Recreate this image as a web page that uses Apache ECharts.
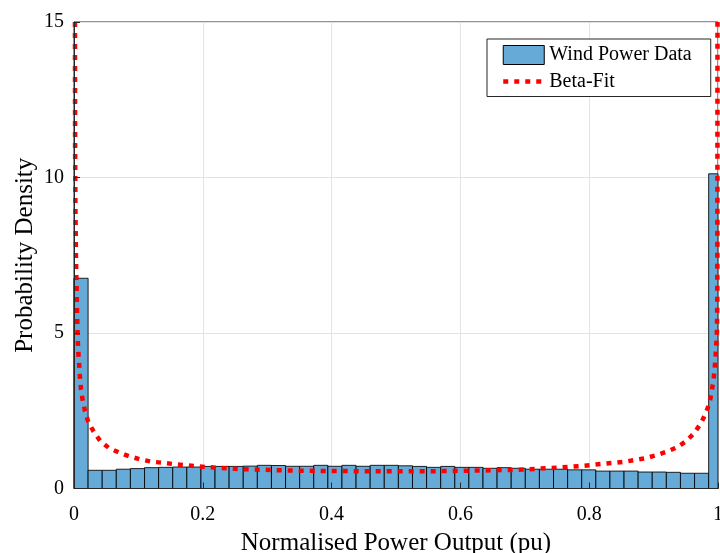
<!DOCTYPE html>
<html>
<head>
<meta charset="utf-8">
<script src="https://cdn.jsdelivr.net/npm/echarts@6/dist/echarts.min.js"></script>
<style>
html,body{margin:0;padding:0;background:#fff;}
#chart{width:720px;height:553px;}
</style>
</head>
<body>
<div id="chart"></div>
<script>
// ---- data ----
const binWidth = 0.0219;
const histHeights = [
  6.76, 0.585, 0.585, 0.62, 0.64, 0.67, 0.68, 0.69, 0.69, 0.71,
  0.71, 0.71, 0.72, 0.745, 0.74, 0.714, 0.714, 0.745, 0.714, 0.745,
  0.714, 0.745, 0.745, 0.73, 0.71, 0.68, 0.71, 0.68, 0.68, 0.65,
  0.67, 0.65, 0.62, 0.62, 0.62, 0.60, 0.60, 0.56, 0.56, 0.56,
  0.53, 0.53, 0.52, 0.49, 0.49, 10.12
];
const fitX = [
  0.0015, 0.0017, 0.0022, 0.0031, 0.0041, 0.0047, 0.0052, 0.0057, 0.0062, 0.0072,
  0.0083, 0.0093, 0.0109, 0.0135, 0.0171, 0.0222, 0.0305, 0.0404, 0.0538, 0.0694,
  0.085, 0.1025, 0.1206, 0.136, 0.153, 0.170, 0.187, 0.204, 0.221, 0.238,
  0.256, 0.273, 0.290, 0.307, 0.324, 0.341, 0.358, 0.375, 0.400, 0.444,
  0.478, 0.512, 0.547, 0.581, 0.615, 0.650, 0.684, 0.718, 0.752, 0.786,
  0.820, 0.855, 0.888, 0.904, 0.920, 0.937, 0.951, 0.963, 0.973, 0.981,
  0.987, 0.990, 0.993, 0.9946, 0.996, 0.997, 0.998, 0.9984, 0.9988, 0.9990,
  0.9991, 0.9992
];
const fitY = [
  15, 11, 9.0, 7.4, 6.4, 5.68, 5.31, 4.94, 4.59, 4.24,
  3.90, 3.55, 3.19, 2.83, 2.48, 2.14, 1.83, 1.54, 1.31, 1.16,
  1.04, 0.94, 0.862, 0.83, 0.79, 0.756, 0.724, 0.69, 0.67, 0.65,
  0.627, 0.617, 0.605, 0.595, 0.585, 0.577, 0.572, 0.567, 0.563, 0.556,
  0.553, 0.553, 0.555, 0.563, 0.575, 0.585, 0.60, 0.632, 0.67, 0.72,
  0.79, 0.86, 0.975, 1.07, 1.18, 1.33, 1.53, 1.78, 2.08, 2.42,
  2.76, 3.11, 3.47, 3.81, 4.16, 4.51, 4.86, 5.21, 6.0, 8.0,
  11.0, 15
];
const xTicks = ['0', '0.2', '0.4', '0.6', '0.8', '1'];
const yTicks = ['0', '5', '10', '15'];

// ---- build ----
const histData = histHeights.map((h, i) => [i * binWidth, (i + 1) * binWidth, h]);
const fitData = fitX.map((x, i) => [x, fitY[i]]);

const FONT = '"Liberation Serif", "Times New Roman", serif';
const AX = '#262626';

const chart = echarts.init(document.getElementById('chart'), null, {renderer: 'canvas'});
chart.setOption({
  backgroundColor: '#ffffff',
  animation: false,
  grid: {left: 74, right: 2, top: 22, bottom: 64.5, containLabel: false, outerBoundsMode: 'none',
    show: true, borderColor: AX, borderWidth: 1, backgroundColor: 'transparent'},
  legend: {
    orient: 'vertical',
    left: 487, top: 39,
    padding: [6, 19, 5, 14],
    itemWidth: 41, itemHeight: 19, itemGap: 6.5,
    backgroundColor: '#ffffff',
    borderColor: '#262626', borderWidth: 1,
    textStyle: {fontFamily: FONT, fontSize: 20, color: '#000'},
    data: [
      {name: 'Wind Power Data', icon: 'rect', itemStyle: {color: '#66AAD7', borderColor: '#000', borderWidth: 1}},
      {name: 'Beta-Fit', itemStyle: {opacity: 0}, lineStyle: {color: '#ff0000', width: 4.5, type: [5, 6], cap: 'butt'}}
    ]
  },
  xAxis: [
    {
      type: 'value', min: 0, max: 1, interval: 0.2, z: 10,
      axisLine: {show: true, lineStyle: {color: AX, width: 1}},
      axisTick: {show: true, inside: true, length: 6, lineStyle: {color: AX}},
      axisLabel: {fontFamily: FONT, fontSize: 20, color: '#000', margin: 16,
        formatter: v => xTicks[Math.round(v / 0.2)]},
      splitLine: {show: false},
      name: 'Normalised Power Output (pu)', nameLocation: 'middle', nameGap: 42,
      nameTextStyle: {fontFamily: FONT, fontSize: 25, color: '#000'}
    },
    {
      type: 'value', min: 0, max: 1, interval: 0.2, z: 0,
      axisLine: {show: false}, axisTick: {show: false}, axisLabel: {show: false},
      splitLine: {show: true, lineStyle: {color: '#e3e3e3', width: 1}}
    }
  ],
  yAxis: [
    {
      type: 'value', min: 0, max: 15, interval: 5, z: 10,
      axisLine: {show: true, lineStyle: {color: AX, width: 1}},
      axisTick: {show: true, inside: true, length: 6, lineStyle: {color: AX}},
      axisLabel: {fontFamily: FONT, fontSize: 20, color: '#000', margin: 10,
        formatter: v => yTicks[Math.round(v / 5)]},
      splitLine: {show: false},
      name: 'Probability Density', nameLocation: 'middle', nameGap: 36, nameMoveOverlap: false,
      nameTextStyle: {fontFamily: FONT, fontSize: 25, color: '#000'}
    },
    {
      type: 'value', min: 0, max: 15, interval: 5, z: 0,
      axisLine: {show: false}, axisTick: {show: false}, axisLabel: {show: false},
      splitLine: {show: true, lineStyle: {color: '#e3e3e3', width: 1}}
    }
  ],
  series: [
    {
      name: 'Wind Power Data',
      type: 'custom',
      xAxisIndex: 0, yAxisIndex: 0,
      encode: {x: [0, 1], y: 2},
      data: histData,
      z: 2,
      itemStyle: {color: '#66AAD7'},
      renderItem: function (params, api) {
        const p0 = api.coord([api.value(0), 0]);
        const p1 = api.coord([api.value(1), api.value(2)]);
        const cs = params.coordSys;
        const rect = echarts.graphic.clipRectByRect(
          {x: p0[0], y: p1[1], width: p1[0] - p0[0], height: p0[1] - p1[1]},
          {x: cs.x, y: cs.y, width: cs.width, height: cs.height});
        if (!rect) return null;
        return {
          type: 'rect', shape: rect,
          style: {fill: '#66AAD7', stroke: 'rgba(0,0,0,0.85)', lineWidth: 1}
        };
      }
    },
    {
      name: 'Beta-Fit',
      type: 'line',
      xAxisIndex: 0, yAxisIndex: 0,
      data: fitData,
      symbol: 'none',
      smooth: false,
      clip: false,
      z: 5,
      itemStyle: {color: '#ff0000'},
      lineStyle: {color: '#ff0000', width: 4.5, type: [5, 6], cap: 'butt'}
    }
  ]
});
</script>
</body>
</html>
